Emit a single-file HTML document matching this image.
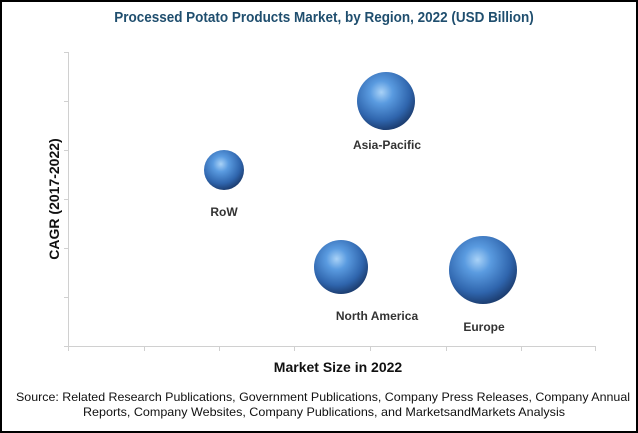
<!DOCTYPE html>
<html><head><style>
body{margin:0;background:#fff}
svg{display:block}
</style></head><body>
<svg width="638" height="433" viewBox="0 0 638 433" xmlns="http://www.w3.org/2000/svg" font-family="Liberation Sans, sans-serif">
<defs>
<radialGradient id="g" cx="0.42" cy="0.35" r="0.65">
<stop offset="0" stop-color="#a9d2f7"/>
<stop offset="0.3" stop-color="#5a9be0"/>
<stop offset="0.75" stop-color="#2f65ad"/>
<stop offset="1" stop-color="#1d3f73"/>
</radialGradient>
</defs>
<rect x="1" y="1" width="636" height="431" fill="#fff" stroke="#000" stroke-width="2"/>
<text x="324" y="22" text-anchor="middle" font-size="15" font-weight="bold" fill="#1f4e6e" transform="scale(0.9 1) translate(36 0)">Processed Potato Products Market, by Region, 2022 (USD Billion)</text>
<g stroke="#d0d0d0" stroke-width="1">
<line x1="68.5" y1="52" x2="68.5" y2="346"/>
<line x1="64" y1="52.5" x2="68" y2="52.5"/>
<line x1="64" y1="101.5" x2="68" y2="101.5"/>
<line x1="64" y1="150.5" x2="68" y2="150.5"/>
<line x1="64" y1="199.5" x2="68" y2="199.5"/>
<line x1="64" y1="248.5" x2="68" y2="248.5"/>
<line x1="64" y1="297.5" x2="68" y2="297.5"/>
<line x1="64" y1="346.5" x2="596" y2="346.5"/>
<line x1="68.5" y1="346" x2="68.5" y2="351"/>
<line x1="144.5" y1="346" x2="144.5" y2="351"/>
<line x1="219.5" y1="346" x2="219.5" y2="351"/>
<line x1="294.5" y1="346" x2="294.5" y2="351"/>
<line x1="370.5" y1="346" x2="370.5" y2="351"/>
<line x1="446.5" y1="346" x2="446.5" y2="351"/>
<line x1="521.5" y1="346" x2="521.5" y2="351"/>
<line x1="595.5" y1="346" x2="595.5" y2="351"/>
</g>
<circle cx="224" cy="170" r="20" fill="url(#g)"/>
<circle cx="386" cy="101" r="29" fill="url(#g)"/>
<circle cx="341" cy="267" r="27" fill="url(#g)"/>
<circle cx="483" cy="270" r="34" fill="url(#g)"/>
<g font-size="12" font-weight="bold" fill="#333" text-anchor="middle">
<text x="387" y="149">Asia-Pacific</text>
<text x="224" y="216">RoW</text>
<text x="377" y="320">North America</text>
<text x="484" y="331">Europe</text>
</g>
<text x="338" y="372" text-anchor="middle" font-size="14" font-weight="bold" fill="#111">Market Size in 2022</text>
<text transform="translate(59 199) rotate(-90)" text-anchor="middle" font-size="14" font-weight="bold" fill="#111">CAGR (2017-2022)</text>
<g font-size="12" fill="#111">
<text x="16" y="401" textLength="614" lengthAdjust="spacingAndGlyphs">Source: Related Research Publications, Government Publications, Company Press Releases, Company Annual</text>
<text x="83" y="416" textLength="482" lengthAdjust="spacingAndGlyphs">Reports, Company Websites, Company Publications, and MarketsandMarkets Analysis</text>
</g>
</svg>
</body></html>
